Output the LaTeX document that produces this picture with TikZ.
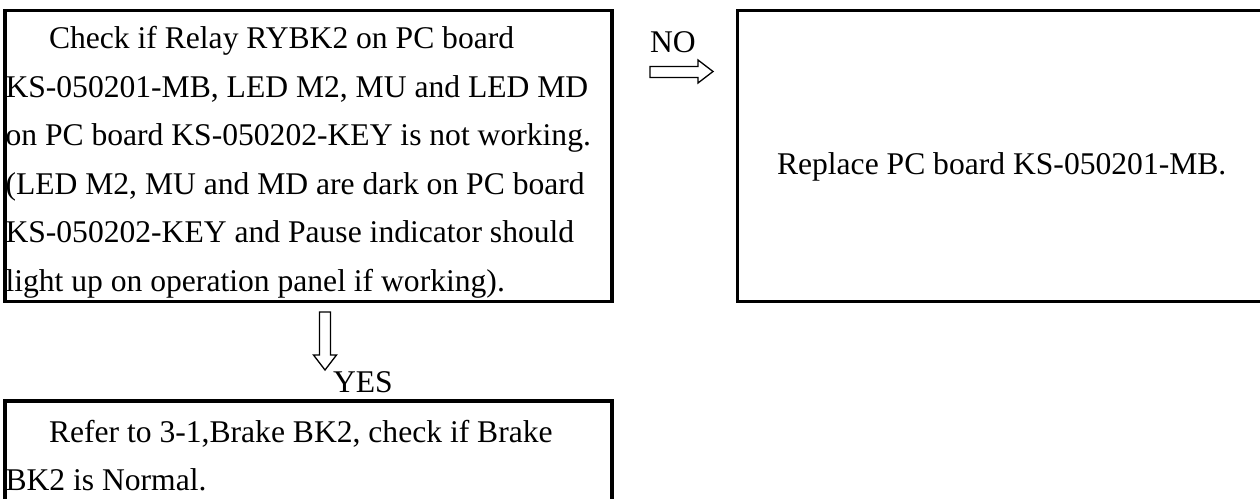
\documentclass[tikz,border=0pt]{standalone}
\usepackage{fontspec}
\setmainfont{Liberation Serif}
\begin{document}
\begin{tikzpicture}[x=1pt,y=-1pt,
  box/.style={draw=black, line width=3.2pt, inner sep=0pt, outer sep=0pt},
  txt/.style={anchor=base west, inner sep=0pt, outer sep=0pt, font=\fontsize{31.6}{38}\selectfont},
  hollow/.style={draw=black, line width=1.3pt, fill=white, line join=miter}]
\useasboundingbox[fill=white] (0,0) rectangle (1260,498);
% boxes
\node[box, minimum width=607pt, minimum height=290.5pt] (check) at (308.5,156) {};
\node[box, minimum width=527.5pt, minimum height=290.5pt] (replace) at (1001.25,156) {};
\node[box, minimum width=607pt, minimum height=199pt] (refer) at (308.5,500.5) {};
% text of the check box
\node[txt] (c1) at (49,48.5) {Check if Relay RYBK2 on PC board};
\node[txt] (c2) at (5.5,97) {KS-050201-MB, LED M2, MU and LED MD};
\node[txt] (c3) at (5.5,145.5) {on PC board KS-050202-KEY is not working.};
\node[txt] (c4) at (5.5,194) {(LED M2, MU and MD are dark on PC board};
\node[txt] (c5) at (5.5,242.5) {KS-050202-KEY and Pause indicator should};
\node[txt] (c6) at (5.5,291) {light up on operation panel if working).};
% text of the replace box
\node[txt] (r1) at (777,174) {Replace PC board KS-050201-MB.};
% text of the refer box
\node[txt] (f1) at (49,442) {Refer to 3-1,Brake BK2, check if Brake};
\node[txt] (f2) at (5.5,490) {BK2 is Normal.};
% labels
\node[txt] (no) at (650,52) {NO};
\node[txt] (yes) at (333,392) {YES};
% hollow arrows
\draw[hollow] (650,66.5) -- (698,66.5) -- (698,60) -- (713,71.5) -- (698,83) -- (698,77.5) -- (650,77.5) -- cycle;
\draw[hollow] (319.5,312) -- (319.5,355) -- (313.5,355) -- (325,370) -- (336.5,355) -- (330.5,355) -- (330.5,312) -- cycle;
\end{tikzpicture}
\end{document}
